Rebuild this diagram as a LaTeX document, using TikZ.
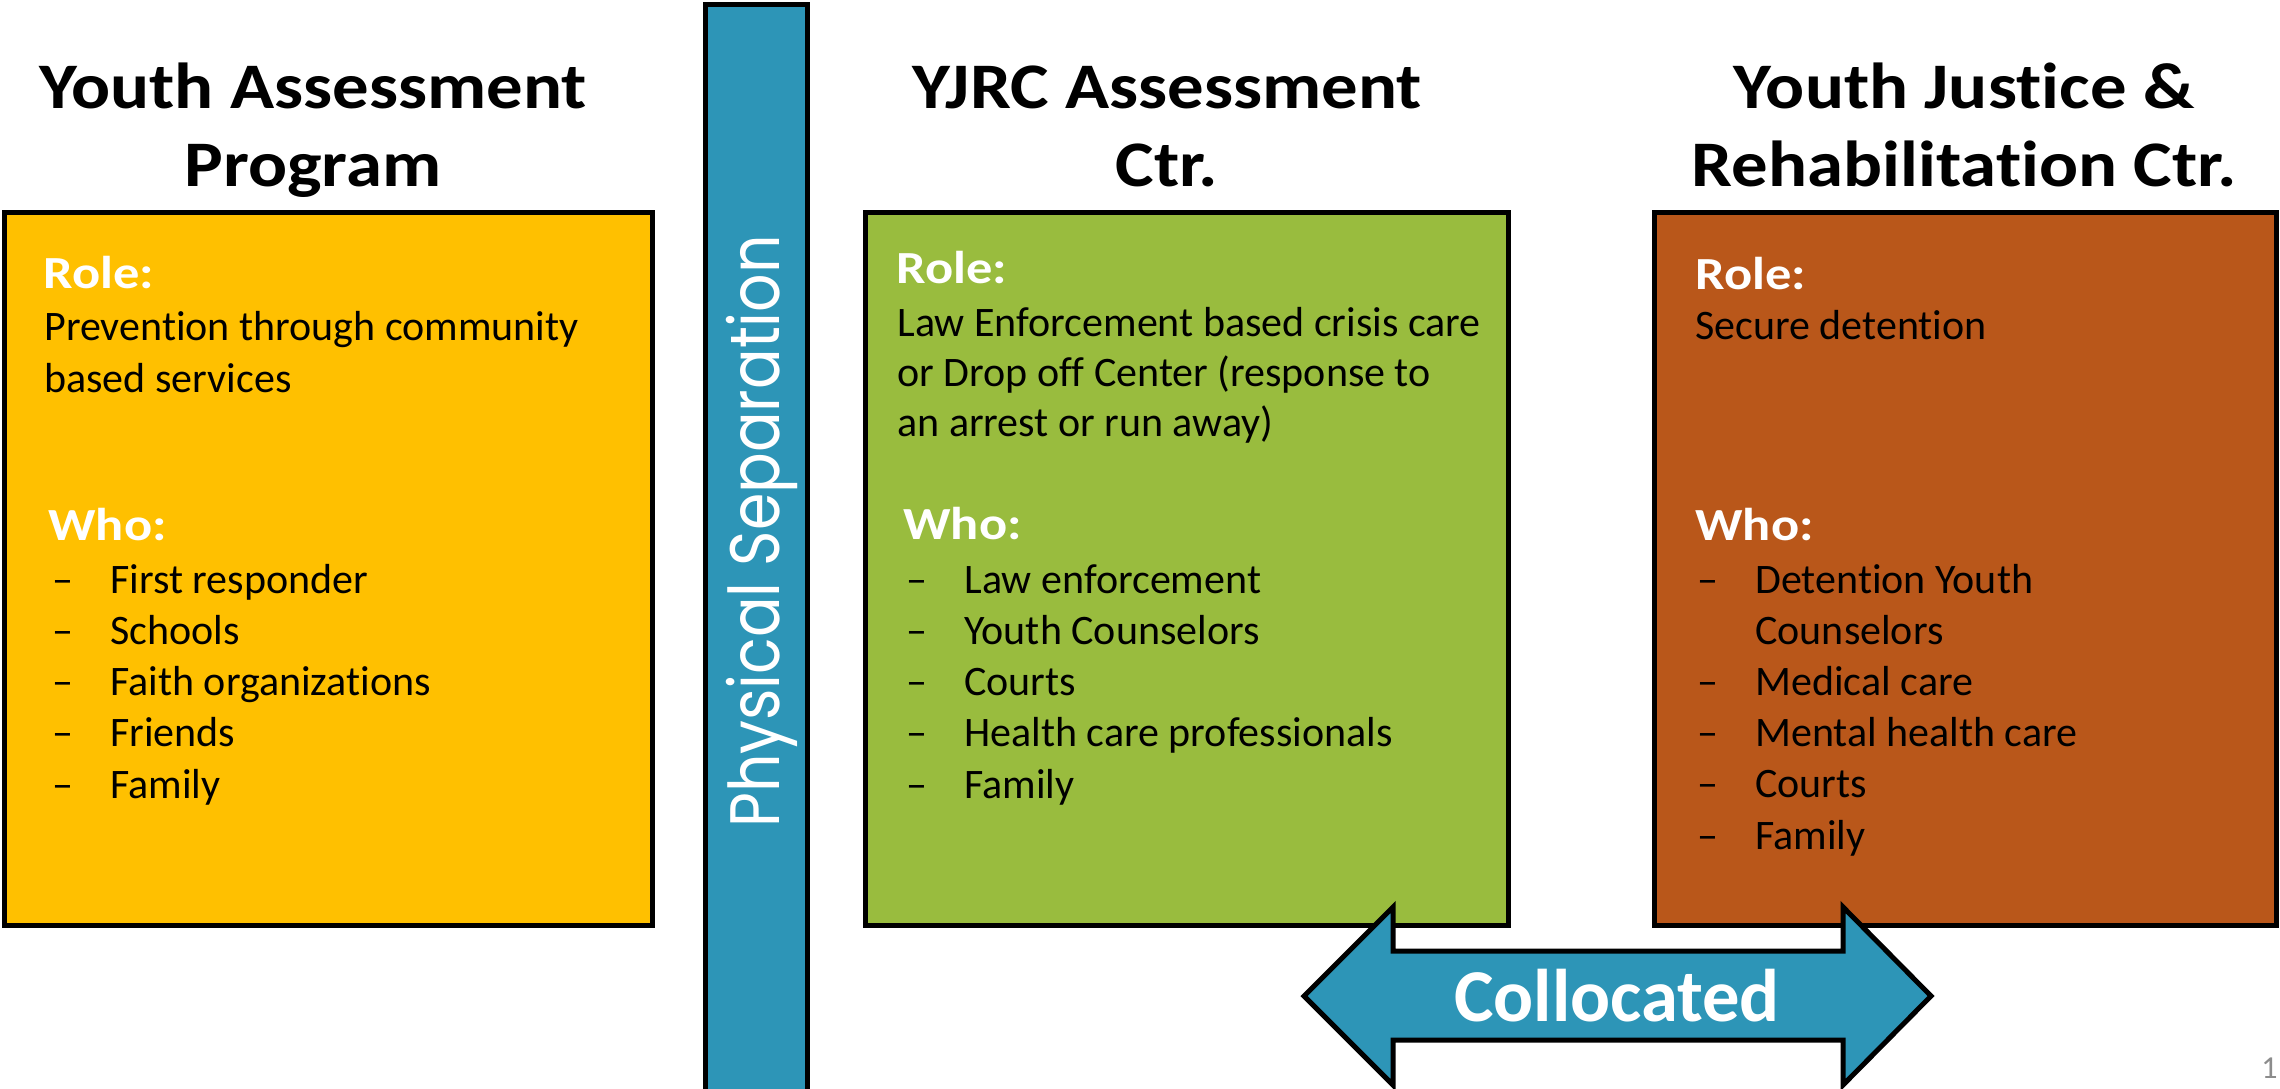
\documentclass[tikz,border=0pt]{standalone}
\usepackage{fontspec}
\usepackage{graphicx}
\setmainfont{Carlito}[Ligatures=NoCommon]
\newfontfamily\titlefont{Carlito}[Ligatures=NoCommon, FakeStretch=1.12]
\newfontfamily\labelfont{Carlito}[Ligatures=NoCommon, FakeStretch=1.14]
\newfontfamily\sepfont{Poppins}
\definecolor{ygold}{HTML}{FFC000}
\definecolor{ggreen}{HTML}{99BC3E}
\definecolor{rorange}{HTML}{B9571A}
\definecolor{bblue}{HTML}{2D95B7}
\definecolor{pgray}{HTML}{8C8C8C}
\begin{document}
\begin{tikzpicture}[x=0.5pt,y=-0.5pt,
  panel/.style={draw=black, line width=2.5pt, outer sep=0pt, inner sep=0pt, anchor=north west, rectangle},
  rolelbl/.style={anchor=base west, inner sep=0pt, text=white, font=\labelfont\bfseries\fontsize{23}{28}\selectfont},
  bodytxt/.style={anchor=base west, inner sep=0pt, font=\fontsize{21}{25}\selectfont},
  titletxt/.style={anchor=base, inner sep=0pt, font=\titlefont\bfseries\fontsize{32.5}{39}\selectfont},
]
\fill[white] (0,0) rectangle (2280,1088);
\useasboundingbox (0,0) rectangle (2280,1088);

% panels
\node[panel, fill=ygold, minimum width=323.75pt, minimum height=356.5pt] (ybox) at (4.5,212.5) {};
\node[panel, fill=ggreen, minimum width=321.25pt, minimum height=356.5pt] (gbox) at (865.5,212.5) {};
\node[panel, fill=rorange, minimum width=310.75pt, minimum height=356.5pt] (obox) at (1654.5,212.5) {};

% separation bar
\node[panel, fill=bblue, minimum width=51pt, minimum height=548pt] (bar) at (705.5,4.5) {};
\node[anchor=base, inner sep=0pt, rotate=90, text=white, font=\sepfont\fontsize{35}{40}\selectfont] (sep) at (779,531.5) {\scalebox{0.86}[1]{Physical Separation}};

% titles
\node[titletxt] (t1a) at (313,108) {Youth Assessment};
\node[titletxt] (t1b) at (313,186) {Program};
\node[titletxt] (t2a) at (1167,108) {YJRC Assessment};
\node[titletxt] (t2b) at (1167,186) {Ctr.};
\node[titletxt] (t3a) at (1964,108) {Youth Justice \&};
\node[titletxt] (t3b) at (1964,186) {Rehabilitation Ctr.};

% yellow panel text
\node[rolelbl] (yrole) at (43,288) {Role:};
\node[bodytxt] (yr1) at (44,340) {Prevention through community};
\node[bodytxt] (yr2) at (44,392) {based services};
\node[rolelbl] (ywho) at (48,540) {Who:};
\foreach \t [count=\i from 0] in {First responder, Schools, Faith organizations, Friends, Family} {
  \node[bodytxt] (yd\i) at (52,{593+51.25*\i}) {–};
  \node[bodytxt] (yi\i) at (110,{593+51.25*\i}) {\t};
}

% green panel text
\node[rolelbl] (grole) at (896,283) {Role:};
\node[bodytxt] (gr1) at (897,336) {Law Enforcement based crisis care};
\node[bodytxt] (gr2) at (897,386) {or Drop off Center (response to};
\node[bodytxt] (gr3) at (897,436) {an arrest or run away)};
\node[rolelbl] (gwho) at (903,539) {Who:};
\foreach \t [count=\i from 0] in {Law enforcement, Youth Counselors, Courts, Health care professionals, Family} {
  \node[bodytxt] (gd\i) at (906,{593+51.25*\i}) {–};
  \node[bodytxt] (gi\i) at (964,{593+51.25*\i}) {\t};
}

% orange panel text
\node[rolelbl] (orole) at (1695,289) {Role:};
\node[bodytxt] (or1) at (1695,339) {Secure detention};
\node[rolelbl] (owho) at (1695,540) {Who:};
\node[bodytxt] (od0) at (1697,593) {–};
\node[bodytxt] (oi0) at (1755,593) {Detention Youth};
\node[bodytxt] (oi0b) at (1755,644) {Counselors};
\foreach \t [count=\i from 1] in {Medical care, Mental health care, Courts, Family} {
  \node[bodytxt] (od\i) at (1697,{644+51.25*\i}) {–};
  \node[bodytxt] (oi\i) at (1755,{644+51.25*\i}) {\t};
}

% collocated double arrow
\draw[fill=bblue, draw=black, line width=2.5pt, line join=miter]
  (1304,996) -- (1393,907) -- (1393,951) -- (1843,951) -- (1843,907) -- (1931,996)
  -- (1843,1085) -- (1843,1040) -- (1393,1040) -- (1393,1085) -- cycle;
\node[anchor=base, inner sep=0pt, text=white, font=\bfseries\fontsize{37.3}{44}\selectfont] (coll) at (1617,1021) {Collocated};

% page number
\node[anchor=base west, inner sep=0pt, text=pgray, font=\fontsize{16}{19}\selectfont] (pnum) at (2261,1078) {1};
\end{tikzpicture}
\end{document}
